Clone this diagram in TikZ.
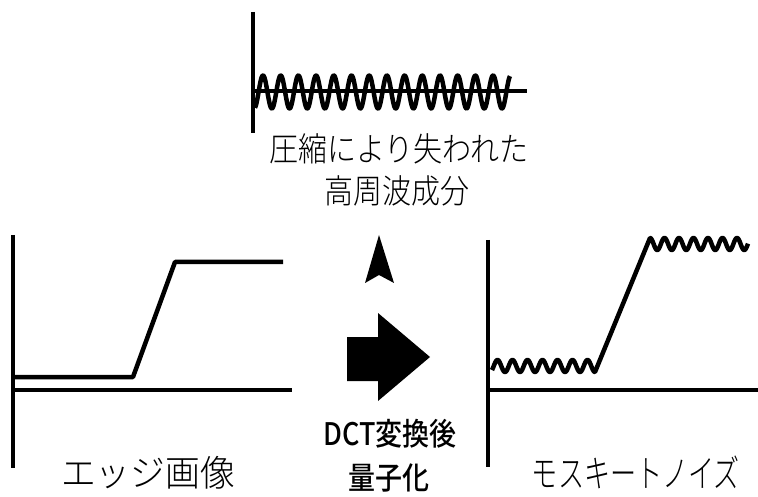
\documentclass[tikz,border=0pt]{standalone}
\usepackage{fontspec}
\newfontfamily\cjklight{Noto Sans CJK JP Light}
\newfontfamily\cjkmed{Noto Sans CJK JP Medium}
\begin{document}
\begin{tikzpicture}[x=1pt,y=-1pt,
  axis/.style={line width=4.5pt},
  sig/.style={line width=4.5pt, line join=round},
  label/.style={font=\cjklight\fontsize{29}{40}\selectfont, inner sep=0pt, align=center},
  dct/.style={font=\cjkmed\fontsize{27}{38}\selectfont, inner sep=0pt, align=center}]
\useasboundingbox (0,0) rectangle (758,497);
% top panel: lost high-frequency components
\draw[axis] (253,12) -- (253,133);
\draw[axis] (251,91) -- (527,91);
\draw[sig] plot[domain=255:510, samples=500, smooth] (\x, {92-16.5*cos((\x-263)*20.339)});
\node[label] (lost1) at (399,149) {\scalebox{1}[1.15]{圧縮により失われた}};
\node[label] (lost2) at (397,191) {\scalebox{1}[1.15]{高周波成分}};
% left panel: edge image
\draw[axis] (13,235) -- (13,468);
\draw[axis] (11,390) -- (292,390);
\draw[sig] (13,377) -- (133,377) -- (175,262) -- (283,262);
\node[label] (edge) at (148,473) {\scalebox{1.2}[1.25]{エッジ画像}};
% right panel: mosquito noise
\draw[sig] plot[domain=492:595, samples=300, smooth] (\x, {366+6*cos((\x-595)*24)})
  -- (650,238)
  -- plot[domain=650:748, samples=300, smooth] (\x, {244-6*cos((\x-650)*24.83)});
\draw[axis] (488,240) -- (488,467);
\draw[axis] (486,390) -- (758,390);
\node[label] (mosq) at (636,472) {\scalebox{0.9}[1.3]{モスキートノイズ}};
% middle arrows
\fill (379,235) -- (365,283) -- (379,275) -- (394,283) -- cycle;
\fill (347,337) -- (378,337) -- (378,313) -- (430,357) -- (378,401) -- (378,381) -- (347,381) -- cycle;
\node[dct] (dct1) at (390,434) {\scalebox{1}[1.15]{DCT変換後}};
\node[dct] (dct2) at (389,478) {\scalebox{1}[1.15]{量子化}};
\end{tikzpicture}
\end{document}
